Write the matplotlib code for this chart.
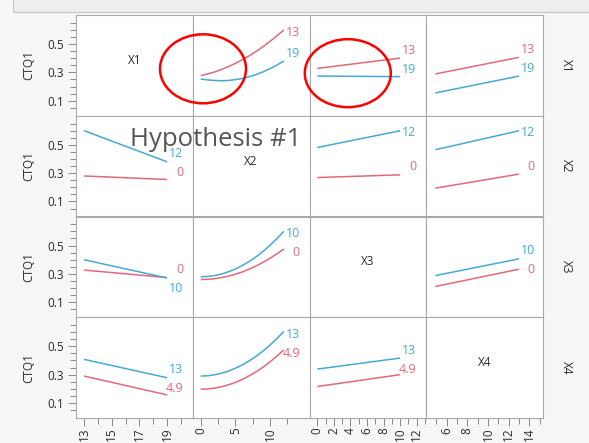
import matplotlib
matplotlib.use("Agg")
import matplotlib.pyplot as plt
from matplotlib.patches import Ellipse, Rectangle

plt.rcParams['font.family'] = ['Open Sans', 'DejaVu Sans']

# ---- data -------------------------------------------------------------
factors = ["X1", "X2", "X3", "X4"]
response = "CTQ1"

# levels at which the row factor is held (low, high), shown at curve ends
x1_levels = ["13", "19"]
x2_levels = ["0", "12"]
x3_levels = ["0", "10"]
x4_levels = ["4.9", "13"]

# x positions of the profile traces for each column factor
x1_grid = [13, 19]
x2_grid = [0, 1, 2, 3, 4, 5, 6, 7, 8, 9, 10, 11, 12]
x3_grid = [0, 10]
x4_grid = [4.9, 13]

# row X1 held at 13 (lo) / 19 (hi)
r1_x2_lo = [0.277, 0.289, 0.303, 0.321, 0.341, 0.364, 0.389, 0.417, 0.448, 0.482, 0.519, 0.558, 0.600]
r1_x2_hi = [0.253, 0.247, 0.243, 0.241, 0.243, 0.249, 0.257, 0.270, 0.285, 0.304, 0.326, 0.352, 0.380]
r1_x3_lo = [0.328, 0.401]
r1_x3_hi = [0.274, 0.270]
r1_x4_lo = [0.289, 0.406]
r1_x4_hi = [0.155, 0.274]

# row X2 held at 0 (lo) / 12 (hi)
r2_x1_lo = [0.280, 0.255]
r2_x1_hi = [0.600, 0.380]
r2_x3_lo = [0.269, 0.288]
r2_x3_hi = [0.481, 0.599]
r2_x4_lo = [0.194, 0.293]
r2_x4_hi = [0.465, 0.599]

# row X3 held at 0 (lo) / 10 (hi)
r3_x1_lo = [0.327, 0.274]
r3_x1_hi = [0.400, 0.271]
r3_x2_lo = [0.260, 0.262, 0.266, 0.274, 0.284, 0.298, 0.314, 0.334, 0.356, 0.382, 0.410, 0.442, 0.476]
r3_x2_hi = [0.280, 0.282, 0.288, 0.299, 0.315, 0.334, 0.359, 0.388, 0.421, 0.459, 0.502, 0.549, 0.600]
r3_x4_lo = [0.211, 0.333]
r3_x4_hi = [0.288, 0.406]

# row X4 held at 4.9 (lo) / 13 (hi)
r4_x1_lo = [0.290, 0.157]
r4_x1_hi = [0.408, 0.278]
r4_x2_lo = [0.197, 0.199, 0.205, 0.214, 0.228, 0.245, 0.266, 0.292, 0.320, 0.353, 0.390, 0.431, 0.475]
r4_x2_hi = [0.290, 0.292, 0.299, 0.310, 0.325, 0.345, 0.369, 0.397, 0.430, 0.467, 0.509, 0.555, 0.605]
r4_x3_lo = [0.216, 0.300]
r4_x3_hi = [0.339, 0.417]

y_ticks = [0.1, 0.3, 0.5]
y_minor = [0.05, 0.15, 0.2, 0.25, 0.35, 0.4, 0.45, 0.55, 0.6, 0.65]
x_major = [[13, 15, 17, 19], [0, 5, 10], [0, 2, 4, 6, 8, 10, 12], [6, 8, 10, 12, 14]]
x_minor = [[14, 16, 18, 20], [2.5, 7.5, 12.5], [1, 3, 5, 7, 9, 11, 13], [5, 7, 9, 11, 13, 15]]

levels = [x1_levels, x2_levels, x3_levels, x4_levels]
grids = [x1_grid, x2_grid, x3_grid, x4_grid]
traces = {
    (0, 1): (r1_x2_lo, r1_x2_hi), (0, 2): (r1_x3_lo, r1_x3_hi), (0, 3): (r1_x4_lo, r1_x4_hi),
    (1, 0): (r2_x1_lo, r2_x1_hi), (1, 2): (r2_x3_lo, r2_x3_hi), (1, 3): (r2_x4_lo, r2_x4_hi),
    (2, 0): (r3_x1_lo, r3_x1_hi), (2, 1): (r3_x2_lo, r3_x2_hi), (2, 3): (r3_x4_lo, r3_x4_hi),
    (3, 0): (r4_x1_lo, r4_x1_hi), (3, 1): (r4_x2_lo, r4_x2_hi), (3, 2): (r4_x3_lo, r4_x3_hi),
}

# ---- layout / style ---------------------------------------------------
W, H = 589, 443
RED = '#e2687a'
BLUE = '#45a9d3'
FRAME = '#a9a9a9'
TEXT = '#2b2b2b'

x_limits = [(12.42, 20.86), (-1.15, 15.7), (-0.94, 13.15), (4.02, 15.33)]
y_limits = (-0.006, 0.705)

grid_left, grid_top = 76, 15
cell_w = (543 - 76) / 4
cell_h = (418 - 15) / 4

fig = plt.figure(figsize=(W / 100, H / 100), dpi=100, facecolor='#f7f7f7')


def px_rect(x0, y0, w, h):
    return [x0 / W, 1 - (y0 + h) / H, w / W, h / H]


overlay = fig.add_axes([0, 0, 1, 1], zorder=10)
overlay.set_xlim(0, W)
overlay.set_ylim(H, 0)
overlay.axis('off')

axes = {}
for i in range(4):
    for j in range(4):
        ax = fig.add_axes(px_rect(grid_left + j * cell_w, grid_top + i * cell_h, cell_w, cell_h))
        ax.set_facecolor('white')
        for sp in ax.spines.values():
            sp.set_color(FRAME)
            sp.set_linewidth(0.8)
        ax.set_xlim(*x_limits[j])
        ax.set_ylim(*y_limits)
        ax.set_xticks(x_major[j], [f"{v:g}" for v in x_major[j]])
        ax.set_xticks(x_minor[j], minor=True)
        ax.set_yticks(y_ticks, [f"{v:.1f}" for v in y_ticks])
        ax.set_yticks(y_minor, minor=True)
        ax.tick_params(which='both', direction='out', color='#8a8a8a', width=0.7,
                       labelsize=8.5, labelcolor=TEXT)
        ax.tick_params(which='major', length=5.5)
        ax.tick_params(which='minor', length=4)
        ax.tick_params(axis='x', which='both', bottom=(i == 3), labelbottom=(i == 3),
                       labelrotation=90, pad=1.5)
        ax.tick_params(axis='y', which='both', left=(j == 0), labelleft=(j == 0), pad=3)
        if i == j:
            ax.text(0.5, 0.55, factors[i], transform=ax.transAxes, ha='center',
                    va='center', fontsize=8.5, color=TEXT)
        axes[(i, j)] = ax

    row_mid = grid_top + (i + 0.5) * cell_h
    fig.text(28.5 / W, 1 - row_mid / H, response, rotation=90, ha='center',
             va='center', fontsize=8.5, color=TEXT)
    fig.text(566 / W, 1 - row_mid / H, factors[i], rotation=270, ha='center',
             va='center', fontsize=8.5, color=TEXT)

# ---- profile traces with end labels -----------------------------------
for (i, j), (lo, hi) in traces.items():
    ax = axes[(i, j)]
    xs = grids[j]
    ax.plot(xs, lo, color=RED, lw=1.1, solid_capstyle='butt', solid_joinstyle='round')
    ax.plot(xs, hi, color=BLUE, lw=1.1, solid_capstyle='butt', solid_joinstyle='round')

    cell_top = grid_top + i * cell_h
    ends = []
    for vals, color, text in ((lo, RED, levels[i][0]), (hi, BLUE, levels[i][1])):
        px, py = ax.transData.transform((xs[-1], vals[-1]))
        ends.append((H - py, px, color, text))
    ends.sort()
    prev = None
    for y_end, x_end, color, text in ends:
        yc = max(y_end - 8, cell_top + 17)
        if prev is not None:
            yc = max(yc, prev + 19)
        prev = yc
        overlay.text(x_end + 16, yc, text, ha='right', va='center',
                     fontsize=9, color=color)

# ---- window chrome and annotations ------------------------------------
overlay.add_patch(Rectangle((13, -2), W, 14, facecolor='#eeeeee',
                            edgecolor='#c6c6c6', lw=0.8))
overlay.text(130, 146.5, "Hypothesis #1", ha='left', va='baseline',
             fontsize=18.5, color='#555555')
overlay.add_patch(Ellipse((203, 68.8), 86, 69, fill=False, ec='#ff0000', lw=1.8))
overlay.add_patch(Ellipse((347.8, 73.2), 86, 68, fill=False, ec='#ff0000', lw=1.8))

fig.savefig('out.png', dpi=100, facecolor=fig.get_facecolor())
